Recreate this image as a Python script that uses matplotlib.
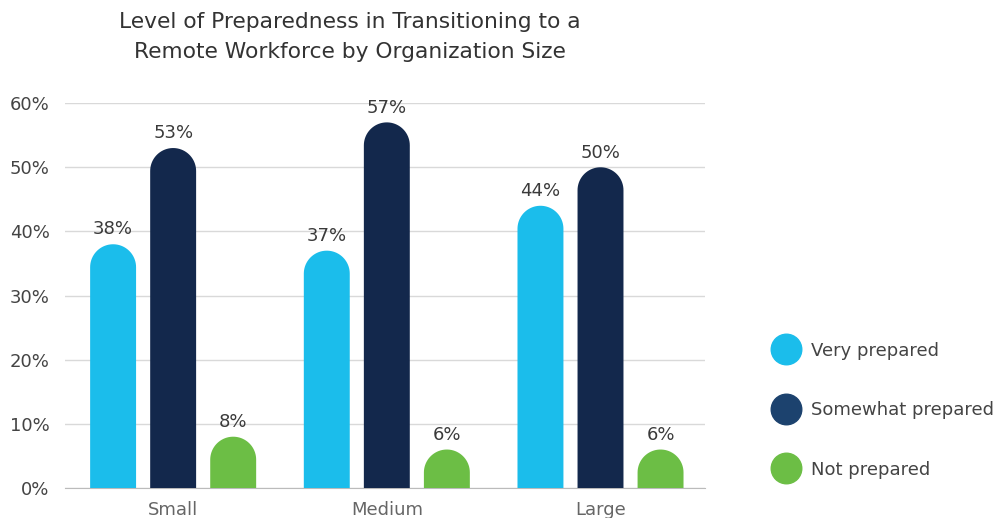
import numpy as np
import matplotlib.pyplot as plt
from matplotlib.patches import Polygon
from matplotlib.lines import Line2D

plt.rcParams['font.family'] = ['DejaVu Sans']

# data
sizes = ['Small', 'Medium', 'Large']
series = ['Very prepared', 'Somewhat prepared', 'Not prepared']
very = [38, 37, 44]
somewhat = [53, 57, 50]
not_prep = [8, 6, 6]
colors = ['#1bbdeb', '#13284c', '#6cbe45']
legend_colors = ['#1bbdeb', '#1c426e', '#6cbe45']

fig = plt.figure(figsize=(10.05, 5.18), dpi=100)
ax = fig.add_axes([0.0647, 0.0579, 0.637, 0.743])

x = np.arange(len(sizes))
width = 0.215
offset = 0.281
ymax = 60
xlo, xhi = -0.506, 2.49
# rounded cap: half the bar width, turned into y units
px_per_y = 0.743 * 518 / ymax
px_per_x = 0.637 * 1005 / (xhi - xlo)
rh = width / 2 * px_per_x / px_per_y

t = np.linspace(0, np.pi, 40)
for i, vals in enumerate([very, somewhat, not_prep]):
    xs = x + (i - 1) * offset
    for xi, v in zip(xs, vals):
        top = v - rh
        px = np.concatenate([[xi - width / 2, xi - width / 2],
                             xi - width / 2 * np.cos(t), [xi + width / 2]])
        py = np.concatenate([[0, top], top + rh * np.sin(t), [0]])
        ax.add_patch(Polygon(np.column_stack([px, py]), closed=True,
                             facecolor=colors[i], lw=0, zorder=3, clip_on=False))
        ax.text(xi, v + 0.9, f'{v}%', ha='center', va='bottom',
                fontsize=13, color='#3a3a3a')

ax.set_xlim(xlo, xhi)
ax.set_ylim(0, ymax)
ax.set_yticks(range(0, 61, 10))
ax.set_yticklabels([f'{t}%' for t in range(0, 61, 10)])
ax.set_xticks(x)
ax.set_xticklabels(sizes)
ax.tick_params(axis='both', length=0, labelsize=13)
ax.tick_params(axis='y', pad=11, labelcolor='#444444')
ax.tick_params(axis='x', pad=9, labelcolor='#666666')
ax.grid(axis='y', color='#d9d9d9', lw=1, zorder=0)
for s in ['left', 'right', 'top']:
    ax.spines[s].set_visible(False)
ax.spines['bottom'].set_color('#bbbbbb')

fig.text(0.348, 0.928, 'Level of Preparedness in Transitioning to a\nRemote Workforce by Organization Size',
         ha='center', va='center', fontsize=15.7, color='#333333', linespacing=1.6)

handles = [Line2D([], [], marker='o', ls='', markersize=22, color=c) for c in legend_colors]
fig.legend(handles, series, loc='center left', bbox_to_anchor=(0.748, 0.208),
           frameon=False, fontsize=13, labelspacing=2.3, handletextpad=0.4,
           labelcolor='#444444')

fig.savefig('out.png', dpi=100)
